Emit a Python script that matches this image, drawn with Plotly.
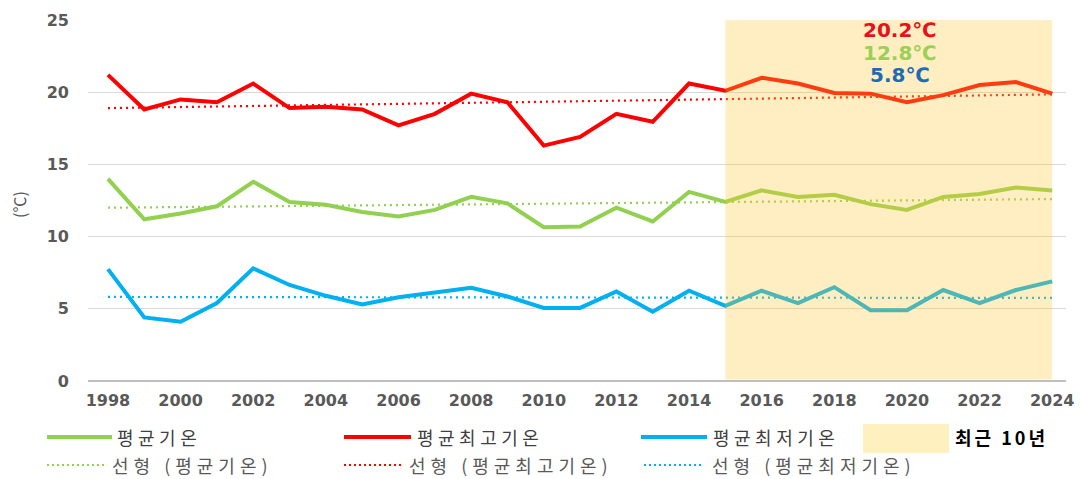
import plotly.graph_objects as go

years = list(range(1998, 2025))
avg_temp = [14.0, 11.2, 11.6, 12.1, 13.8, 12.4, 12.2, 11.7, 11.4, 11.85, 12.75, 12.3, 10.65, 10.7,
            12.0, 11.05, 13.1, 12.4, 13.2, 12.75, 12.9, 12.25, 11.85, 12.75, 12.95, 13.4, 13.2]
max_temp = [21.2, 18.8, 19.5, 19.3, 20.6, 18.9, 19.0, 18.8, 17.7, 18.5, 19.9, 19.3, 16.3, 16.9,
            18.5, 17.95, 20.6, 20.1, 21.0, 20.6, 19.95, 19.9, 19.3, 19.8, 20.5, 20.7, 19.9]
min_temp = [7.75, 4.4, 4.1, 5.4, 7.8, 6.65, 5.9, 5.3, 5.8, 6.1, 6.45, 5.85, 5.06, 5.06,
            6.2, 4.8, 6.25, 5.2, 6.25, 5.4, 6.5, 4.9, 4.9, 6.3, 5.4, 6.3, 6.9]
trend_years = [1998, 2024]
trend_avg = [12.0, 12.6]
trend_max = [18.9, 19.85]
trend_min = [5.82, 5.75]
recent_span = [2015, 2024]
recent_labels = ["20.2℃", "12.8℃", "5.8℃"]
series_names = ["평균기온", "평균최고기온", "평균최저기온"]
trend_names = ["선형 (평균기온)", "선형 (평균최고기온)", "선형 (평균최저기온)"]
recent_name = "최근 10년"
y_title = "(℃)"

GREEN = "#92D050"
RED = "#FF0000"
BLUE = "#00B0F0"
colors = [GREEN, RED, BLUE]

W, H = 1080, 479
L, R, T, B = 88, 1066, 20, 381


def px(x):
    return (x - L) / (R - L)


def py(y):
    return (B - y) / (B - T)


def spaced(t, s):
    return f'<span style="letter-spacing:{s}px">{t}</span>'


fig = go.Figure()
for ty, col in zip([trend_avg, trend_max, trend_min], colors):
    fig.add_trace(go.Scatter(x=trend_years, y=ty, mode="lines",
                             line=dict(color=col, width=2.2, dash="2px,4px"),
                             hoverinfo="skip", showlegend=False))
for ys, col in zip([avg_temp, max_temp, min_temp], colors):
    fig.add_trace(go.Scatter(x=years, y=ys, mode="lines",
                             line=dict(color=col, width=4), showlegend=False))

# recent 10 years overlay
fig.add_shape(type="rect", xref="x", yref="y", x0=recent_span[0], x1=recent_span[1],
              y0=0.1, y1=25.15, fillcolor="rgba(255,200,50,0.3)", line_width=0, layer="above")

ann_colors = ["#E8101A", "#9CCF55", "#1F6AB0"]
for i, (txt, c) in enumerate(zip(recent_labels, ann_colors)):
    fig.add_annotation(x=2019.8, xref="x", y=py([30, 52.5, 75][i]), yref="paper",
                       text=f"<b>{txt}</b>", showarrow=False, xanchor="center", yanchor="middle",
                       font=dict(family="DejaVu Sans, Noto Sans CJK KR", size=20, color=c))

# y title
fig.add_annotation(x=px(19), y=py(205), xref="paper", yref="paper", text=y_title,
                   textangle=-90, showarrow=False, xanchor="center", yanchor="middle",
                   font=dict(family="Noto Sans CJK KR", size=16, color="#595959"))

# manual legend
row1, row2 = 437, 465
line_x = [(47, 112), (344, 411), (641, 707)]
text_x1 = [115, 415, 711]
dot_x = [(47, 106), (344, 403), (644, 702)]
text_x2 = [110, 407, 710]
for i in range(3):
    fig.add_shape(type="line", xref="paper", yref="paper", x0=px(line_x[i][0]), x1=px(line_x[i][1]),
                  y0=py(row1), y1=py(row1), line=dict(color=colors[i], width=4))
    fig.add_annotation(x=px(text_x1[i]), y=py(row1), xref="paper", yref="paper",
                       text=spaced(series_names[i], 4.5),
                       showarrow=False, xanchor="left", yanchor="middle",
                       font=dict(family="Noto Sans CJK KR", size=18, color="#404040"))
    fig.add_shape(type="line", xref="paper", yref="paper", x0=px(dot_x[i][0]), x1=px(dot_x[i][1]),
                  y0=py(row2), y1=py(row2), line=dict(color=colors[i], width=2, dash="2px,3px"))
    fig.add_annotation(x=px(text_x2[i]), y=py(row2), xref="paper", yref="paper",
                       text=spaced(trend_names[i], 5),
                       showarrow=False, xanchor="left", yanchor="middle",
                       font=dict(family="Noto Sans CJK KR", size=18, color="#595959"))
fig.add_shape(type="rect", xref="paper", yref="paper", x0=px(863), x1=px(949), y0=py(453), y1=py(424),
              fillcolor="#FFF0C0", line_width=0)
fig.add_annotation(x=px(953), y=py(437), xref="paper", yref="paper",
                   text=f"<b>{spaced(recent_name, 3)}</b>",
                   showarrow=False, xanchor="left", yanchor="middle",
                   font=dict(family="Noto Sans CJK KR", size=18, color="#000000"))

fig.update_layout(
    width=W, height=H, autosize=False,
    margin=dict(l=L, r=W - R, t=T, b=H - B, pad=0, autoexpand=False),
    plot_bgcolor="white", paper_bgcolor="white",
    showlegend=False,
)
fig.update_xaxes(range=[1997.45, 2024.38], tickmode="linear", tick0=1998, dtick=2,
                 showgrid=False, zeroline=False, showline=False, ticks="", automargin=False,
                 ticklabelstandoff=8,
                 tickfont=dict(family="DejaVu Sans", size=16, color="#595959", weight="bold"))
fig.update_yaxes(range=[0, 25], tickmode="linear", tick0=0, dtick=5, automargin=False,
                 showgrid=True, gridcolor="#D9D9D9", gridwidth=1,
                 zeroline=True, zerolinecolor="#BFBFBF", zerolinewidth=1.5,
                 showline=False, ticks="", ticklabelstandoff=18,
                 tickfont=dict(family="DejaVu Sans", size=16, color="#595959", weight="bold"))

fig.write_html("out.html", config={"displayModeBar": False},
               post_script="document.body.style.margin='0';document.body.style.overflow='hidden';")
